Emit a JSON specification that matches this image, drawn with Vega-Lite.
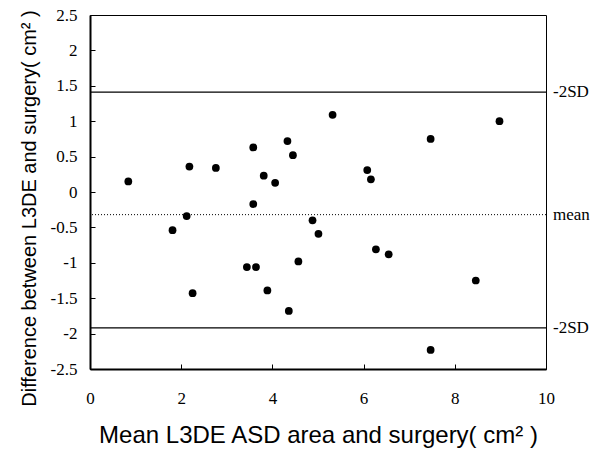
{
  "$schema": "https://vega.github.io/schema/vega-lite/v6.json",
  "width": 456,
  "height": 354,
  "autosize": {"type": "none"},
  "padding": {"left": 90, "top": 15, "right": 57, "bottom": 83},
  "background": "white",
  "config": {
    "view": {"stroke": "black", "strokeWidth": 1},
    "axis": {"grid": false, "labelOverlap": false, "labelFlush": false},
    "axisY": {"labelOverlap": false},
    "axisQuantitative": {"labelOverlap": false}
  },
  "datasets": {
    "points": [
      {"mean": 0.84, "diff": 0.15},
      {"mean": 1.81, "diff": -0.54},
      {"mean": 2.12, "diff": -0.34},
      {"mean": 2.18, "diff": 0.36},
      {"mean": 2.25, "diff": -1.43},
      {"mean": 2.76, "diff": 0.34},
      {"mean": 3.44, "diff": -1.06},
      {"mean": 3.58, "diff": 0.63},
      {"mean": 3.58, "diff": -0.17},
      {"mean": 3.64, "diff": -1.06},
      {"mean": 3.81, "diff": 0.23},
      {"mean": 3.89, "diff": -1.39},
      {"mean": 4.06, "diff": 0.13},
      {"mean": 4.33, "diff": 0.72},
      {"mean": 4.36, "diff": -1.68},
      {"mean": 4.45, "diff": 0.52},
      {"mean": 4.57, "diff": -0.98},
      {"mean": 4.88, "diff": -0.40},
      {"mean": 5.01, "diff": -0.59},
      {"mean": 5.32, "diff": 1.09},
      {"mean": 6.08, "diff": 0.31},
      {"mean": 6.16, "diff": 0.18},
      {"mean": 6.27, "diff": -0.81},
      {"mean": 6.55, "diff": -0.88},
      {"mean": 7.47, "diff": 0.75},
      {"mean": 7.47, "diff": -2.23},
      {"mean": 8.46, "diff": -1.25},
      {"mean": 8.98, "diff": 1.00}
    ],
    "lines": [
      {"value": 1.41, "label": "-2SD", "kind": "sd"},
      {"value": -0.32, "label": "mean", "kind": "mean"},
      {"value": -1.92, "label": "-2SD", "kind": "sd"}
    ]
  },
  "layer": [
    {
      "data": {"name": "points"},
      "mark": {"type": "circle", "color": "black", "opacity": 1, "size": 60},
      "encoding": {
        "x": {
          "field": "mean", "type": "quantitative",
          "scale": {"domain": [0, 10], "nice": false, "zero": false},
          "axis": {
            "title": "Mean L3DE ASD area and surgery( cm² )",
            "values": [0, 2, 4, 6, 8, 10],
            "domainColor": "black", "domainWidth": 2,
            "tickColor": "black", "tickSize": -5, "tickWidth": 1,
            "labelFont": "Liberation Serif", "labelFontSize": 17, "labelColor": "black",
            "labelPadding": 26, "labelExpr": "datum.value + ''",
            "titleFont": "Liberation Sans", "titleFontSize": 24, "titleFontWeight": "normal", "titleColor": "black",
            "titlePadding": 17
          }
        },
        "y": {
          "field": "diff", "type": "quantitative",
          "scale": {"domain": [-2.5, 2.5], "nice": false, "zero": false},
          "axis": {
            "title": "Difference between L3DE and surgery( cm² )",
            "tickCount": 10,
            "labelExpr": "datum.value + ''",
            "domainColor": "black", "domainWidth": 2,
            "tickColor": "black", "tickSize": -5, "tickWidth": 1,
            "labelFont": "Liberation Serif", "labelFontSize": 17, "labelColor": "black",
            "labelPadding": 18,
            "titleFont": "Liberation Sans", "titleFontSize": 20, "titleFontWeight": "normal", "titleColor": "black",
            "titleX": -61, "titleY": 193, "titleBaseline": "middle", "titleAngle": -90
          }
        }
      }
    },
    {
      "data": {"name": "lines"},
      "transform": [{"filter": "datum.kind === 'sd'"}],
      "mark": {"type": "rule", "color": "black", "strokeWidth": 1.2},
      "encoding": {"y": {"field": "value", "type": "quantitative"}}
    },
    {
      "data": {"name": "lines"},
      "transform": [{"filter": "datum.kind === 'mean'"}],
      "mark": {"type": "rule", "color": "black", "strokeWidth": 1, "strokeDash": [1, 2]},
      "encoding": {"y": {"field": "value", "type": "quantitative"}}
    },
    {
      "data": {"name": "lines"},
      "mark": {"type": "text", "align": "left", "baseline": "middle", "dx": 7, "font": "Liberation Serif", "fontSize": 17, "color": "black", "clip": false},
      "encoding": {
        "x": {"datum": 10, "type": "quantitative"},
        "y": {"field": "value", "type": "quantitative"},
        "text": {"field": "label"}
      }
    }
  ]
}
